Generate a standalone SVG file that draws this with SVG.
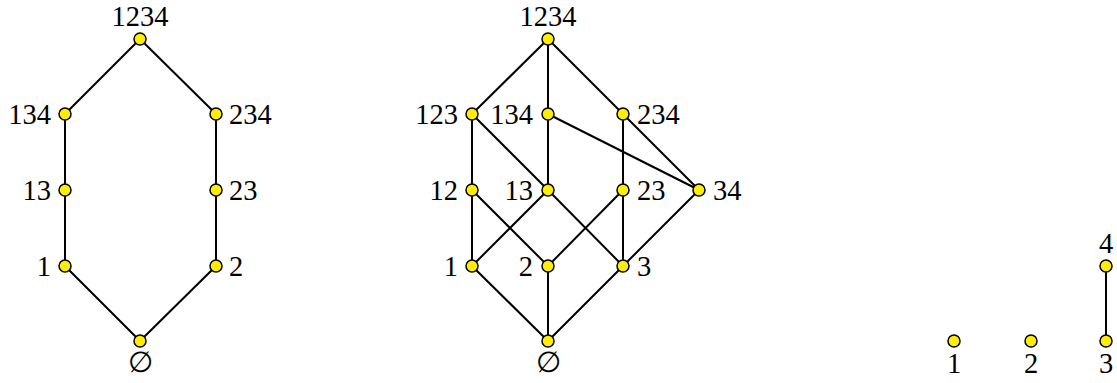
<svg xmlns="http://www.w3.org/2000/svg" width="1117" height="383" viewBox="0 0 1117 383">
<style>
.e{stroke:#000;stroke-width:2;fill:none;stroke-linecap:round}
.n{fill:#ffee00;stroke:#000;stroke-width:1.5}
text{font-family:"Liberation Serif","DejaVu Serif",serif;font-size:28.5px;fill:#000}
.l{text-anchor:end}
.c{text-anchor:middle}
</style>
<rect width="1117" height="383" fill="#fff"/>
<g id="connectors" class="e">
<path d="M140,39 L65,114 M140,39 L216,114 M65,114 L65,190 L65,266 L140,341 M216,114 L216,190 L216,266 L140,341"/>
<path d="M548,39 L472,114 M548,39 L548,114 M548,39 L623,114 M472,114 L472,190 M472,114 L548,190 M548,114 L548,190 M548,114 L699,190 M623,114 L623,190 M623,114 L699,190 M472,190 L472,266 M472,190 L548,266 M548,190 L472,266 M548,190 L623,266 M623,190 L548,266 M623,190 L623,266 M699,190 L623,266 M472,266 L548,341 M548,266 L548,341 M623,266 L548,341"/>
<path d="M1106,266 L1106,341"/>
</g>
<g id="A1234"><circle class="n" cx="140" cy="39" r="6"/><text class="c" x="140" y="26">1234</text></g>
<g id="A134"><circle class="n" cx="65" cy="114" r="6"/><text class="l" x="51" y="124">134</text></g>
<g id="A234"><circle class="n" cx="216" cy="114" r="6"/><text x="229" y="124">234</text></g>
<g id="A13"><circle class="n" cx="65" cy="190" r="6"/><text class="l" x="51" y="200">13</text></g>
<g id="A23"><circle class="n" cx="216" cy="190" r="6"/><text x="229" y="200">23</text></g>
<g id="A1"><circle class="n" cx="65" cy="266" r="6"/><text class="l" x="51" y="276">1</text></g>
<g id="A2"><circle class="n" cx="216" cy="266" r="6"/><text x="229" y="276">2</text></g>
<g id="A0"><circle class="n" cx="140" cy="341" r="6"/><text class="c" x="140" y="372">∅</text></g>
<g id="B1234"><circle class="n" cx="548" cy="39" r="6"/><text class="c" x="548" y="26">1234</text></g>
<g id="B123"><circle class="n" cx="472" cy="114" r="6"/><text class="l" x="458" y="124">123</text></g>
<g id="B134"><circle class="n" cx="548" cy="114" r="6"/><text class="l" x="533" y="124">134</text></g>
<g id="B234"><circle class="n" cx="623" cy="114" r="6"/><text x="637" y="124">234</text></g>
<g id="B12"><circle class="n" cx="472" cy="190" r="6"/><text class="l" x="458" y="200">12</text></g>
<g id="B13"><circle class="n" cx="548" cy="190" r="6"/><text class="l" x="533" y="200">13</text></g>
<g id="B23"><circle class="n" cx="623" cy="190" r="6"/><text x="637" y="200">23</text></g>
<g id="B34"><circle class="n" cx="699" cy="190" r="6"/><text x="713" y="200">34</text></g>
<g id="B1"><circle class="n" cx="472" cy="266" r="6"/><text class="l" x="458" y="276">1</text></g>
<g id="B2"><circle class="n" cx="548" cy="266" r="6"/><text class="l" x="533" y="276">2</text></g>
<g id="B3"><circle class="n" cx="623" cy="266" r="6"/><text x="637" y="276">3</text></g>
<g id="B0"><circle class="n" cx="548" cy="341" r="6"/><text class="c" x="548" y="372">∅</text></g>
<g id="C1"><circle class="n" cx="954" cy="341" r="6"/><text class="c" x="954" y="373">1</text></g>
<g id="C2"><circle class="n" cx="1031" cy="341" r="6"/><text class="c" x="1031" y="373">2</text></g>
<g id="C3"><circle class="n" cx="1106" cy="341" r="6"/><text class="c" x="1106" y="373">3</text></g>
<g id="C4"><circle class="n" cx="1106" cy="266" r="6"/><text class="c" x="1106" y="253">4</text></g>
</svg>
